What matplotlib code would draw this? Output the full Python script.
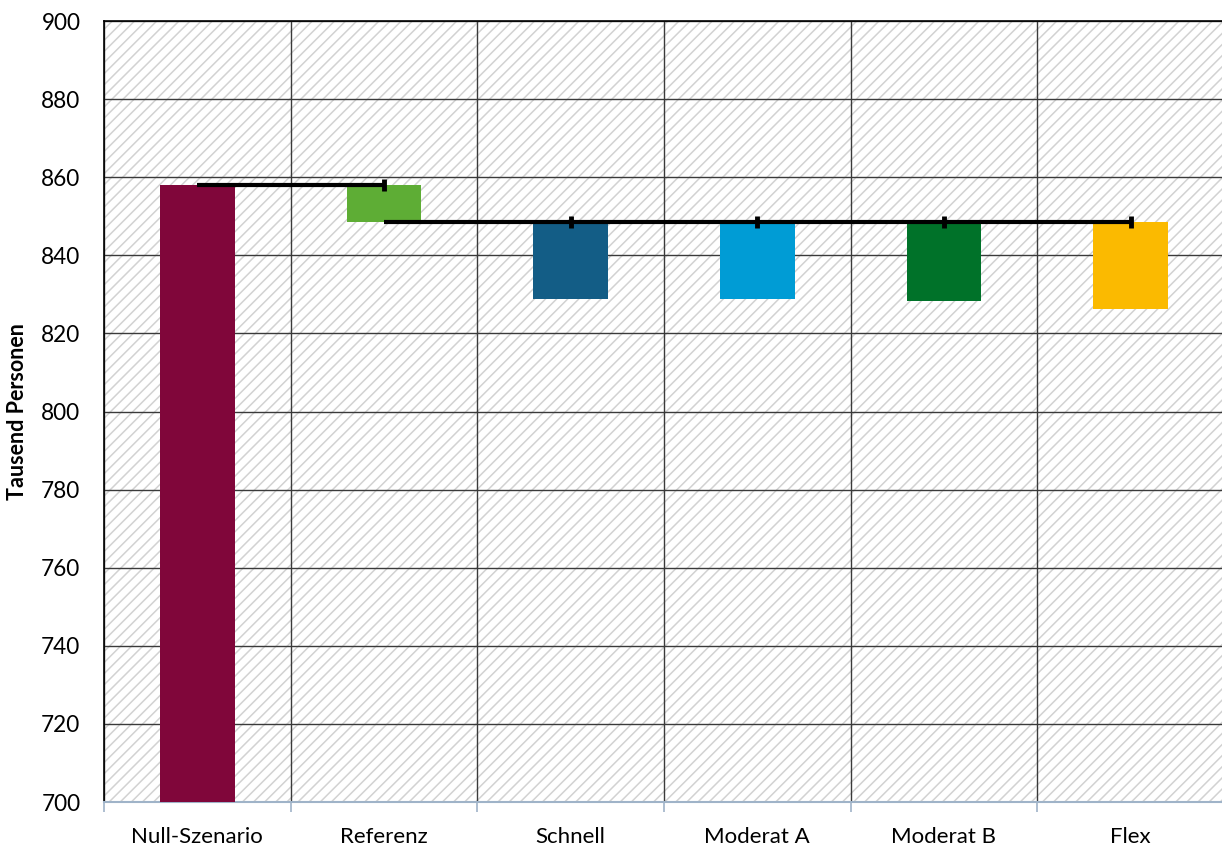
import matplotlib
matplotlib.use("Agg")
import matplotlib.pyplot as plt
from matplotlib.patches import Rectangle
import numpy as np

categories = ["Null-Szenario", "Referenz", "Schnell", "Moderat A", "Moderat B", "Flex"]
bar_bottoms = [700.0, 848.6, 828.7, 828.9, 828.4, 826.2]
bar_tops = [858.0, 858.0, 848.6, 848.6, 848.6, 848.6]
colors = ["#80063A", "#5EAD35", "#135D86", "#009CD5", "#007229", "#FBBA00"]
y_ticks = list(range(700, 901, 20))

plt.rcParams['font.family'] = ['Lato', 'DejaVu Sans']
plt.rcParams['hatch.linewidth'] = 1.1
plt.rcParams['hatch.color'] = '#d2d2d2'

fig = plt.figure(figsize=(12.22, 8.46), dpi=100)
ax = fig.add_axes([104/1222, 1 - 802/846, 1120/1222, 781/846])

# hatched background
bg = Rectangle((0, 0), 1, 1, transform=ax.transAxes, facecolor='white',
               edgecolor='#d2d2d2', hatch='///', linewidth=0, zorder=0)
ax.add_patch(bg)

x = np.arange(len(categories))
heights = [t - b for t, b in zip(bar_tops, bar_bottoms)]
ax.bar(x, heights, bottom=bar_bottoms, width=0.4, color=colors, zorder=3)

# connector lines
ax.plot([x[0], x[1]], [bar_tops[0], bar_tops[0]], color='black', lw=3, zorder=4,
        solid_capstyle='butt')
ax.plot([x[1]], [bar_tops[0]], marker='|', color='black', ms=8, mew=3.5, zorder=4)
ax.plot([x[1], x[-1]], [bar_bottoms[1], bar_bottoms[1]], color='black', lw=3, zorder=4,
        solid_capstyle='butt')
ax.plot(x[2:], [bar_bottoms[1]] * len(x[2:]), linestyle='none', marker='|',
        color='black', ms=8, mew=3.5, zorder=4)

ax.set_xlim(-0.5, len(categories) - 0.5)
ax.set_ylim(700, 900)
ax.set_yticks(y_ticks)
ax.set_xticks(x)
ax.set_xticklabels(categories)
ax.set_xticks(np.arange(len(categories) + 1) - 0.5, minor=True)

ax.grid(True, axis='y', which='major', color='#3a3a3a', lw=1.0, zorder=1)
ax.grid(True, axis='x', which='minor', color='#3a3a3a', lw=1.0, zorder=1)
ax.set_axisbelow(True)

ax.tick_params(axis='x', which='major', length=0, pad=18, labelsize=16, colors='black')
ax.tick_params(axis='x', which='minor', length=7, width=1.2, color='#9fb3c8')
ax.tick_params(axis='y', which='major', length=0, pad=17, labelsize=16.3)

for s in ['top', 'left']:
    ax.spines[s].set_color('black')
    ax.spines[s].set_linewidth(1.2)
ax.spines['right'].set_visible(False)
ax.spines['bottom'].set_color('#9fb3c8')
ax.spines['bottom'].set_linewidth(1.5)

ax.set_ylabel("Tausend Personen", fontsize=15.5, fontweight='bold')
ax.yaxis.set_label_coords(-0.068, 0.5)

fig.savefig("out.png", dpi=100)
